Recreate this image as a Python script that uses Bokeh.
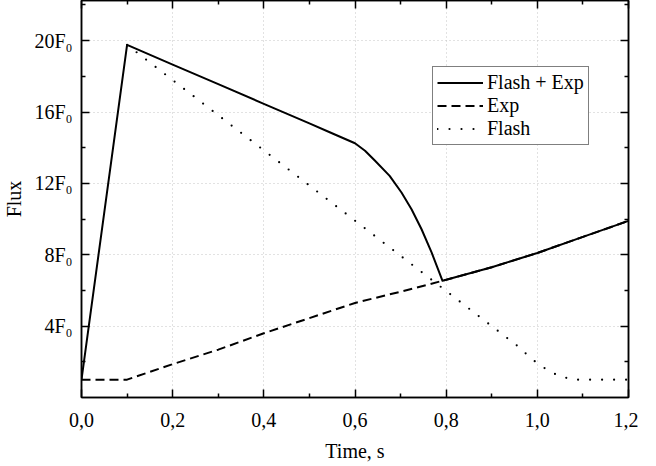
from bokeh.plotting import figure
from bokeh.models import (FixedTicker, LinearAxis, Legend, LegendItem, Range1d)
from bokeh.embed import file_html
from bokeh.resources import INLINE

# ---- data ----
t_sum = [0.0, 0.1, 0.2, 0.3, 0.4, 0.5, 0.547, 0.6, 0.622, 0.644, 0.676, 0.702,
         0.724, 0.746, 0.768, 0.792, 0.9, 1.0, 1.1, 1.2]
flux_sum = [1.0, 19.76, 18.66, 17.56, 16.46, 15.36, 14.84, 14.25, 13.83, 13.27,
            12.42, 11.49, 10.55, 9.43, 8.13, 6.54, 7.3, 8.1, 9.0, 9.9]

t_exp = [0.0, 0.1, 0.2, 0.3, 0.4, 0.5, 0.6, 0.7, 0.792, 0.9, 1.0, 1.1, 1.2]
flux_exp = [1.0, 1.0, 1.87, 2.68, 3.6, 4.45, 5.3, 5.93, 6.54, 7.3, 8.1, 9.0, 9.9]

t_flash = [0.1, 0.2, 0.3, 0.4, 0.5, 0.6, 0.7, 0.8, 0.9, 0.96, 0.986, 1.01,
           1.034, 1.058, 1.082, 1.2]
flux_flash = [19.76, 17.79, 15.82, 13.85, 11.88, 9.91, 7.94, 5.97, 4.0, 2.82,
              2.19, 1.74, 1.37, 1.13, 1.0, 1.0]

x_major = [0.0, 0.2, 0.4, 0.6, 0.8, 1.0, 1.2]
x_minor = [0.1, 0.3, 0.5, 0.7, 0.9, 1.1]
x_labels = ["0,0", "0,2", "0,4", "0,6", "0,8", "1,0", "1,2"]

y_major = [4, 8, 12, 16, 20]
y_minor = [2, 6, 10, 14, 18, 22]
y_labels = ["4F\u2080", "8F\u2080", "12F\u2080", "16F\u2080", "20F\u2080"]

legend_labels = ["Flash + Exp", "Exp", "Flash"]

FONT = "Liberation Serif"
FS = "20px"

p = figure(frame_width=547, frame_height=397,
           x_range=Range1d(0, 1.2), y_range=Range1d(0, 22.25),
           output_backend="svg", toolbar_location=None,
           min_border_left=73, min_border_right=10, min_border_top=0,
           min_border_bottom=10)
p.outline_line_color = "black"
p.outline_line_width = 1.5
p.background_fill_color = "white"
p.border_fill_color = "white"

xt = FixedTicker(ticks=x_major, minor_ticks=x_minor)
yt = FixedTicker(ticks=y_major, minor_ticks=y_minor)


def style_axis(ax, ticker):
    ax.ticker = ticker
    ax.axis_line_color = "black"
    ax.axis_line_width = 1.5
    ax.major_tick_in = 8
    ax.major_tick_out = 0
    ax.minor_tick_in = 4
    ax.minor_tick_out = 0
    ax.major_tick_line_width = 1.5
    ax.minor_tick_line_width = 1.5
    ax.major_tick_line_color = "black"
    ax.minor_tick_line_color = "black"
    ax.major_label_text_font = FONT
    ax.major_label_text_font_size = FS
    ax.major_label_text_color = "black"
    ax.axis_label_text_font = FONT
    ax.axis_label_text_font_size = FS
    ax.axis_label_text_font_style = "normal"
    ax.axis_label_text_color = "black"


xa = p.xaxis[0]
style_axis(xa, xt)
xa.major_label_overrides = {v: s for v, s in zip(x_major, x_labels)}
xa.axis_label = "Time, s"
xa.major_label_standoff = 15
xa.axis_label_standoff = 10

ya = p.yaxis[0]
style_axis(ya, yt)
ya.major_label_overrides = {v: s for v, s in zip(y_major, y_labels)}
ya.axis_label = "Flux"
ya.major_label_standoff = 9
ya.axis_label_standoff = 6

for loc, tk in (("above", xt), ("right", yt)):
    ax = LinearAxis()
    style_axis(ax, tk)
    ax.major_label_text_font_size = "0px"
    ax.major_label_standoff = 0
    ax.major_label_overrides = {}
    p.add_layout(ax, loc)

for g, tk in ((p.xgrid[0], xt), (p.ygrid[0], yt)):
    g.ticker = tk
    g.grid_line_color = "#c4c4c4"
    g.grid_line_dash = "1 3"
    g.grid_line_width = 1

r_sum = p.line(t_sum, flux_sum, line_color="black", line_width=2,
               line_join="round")
r_exp = p.line(t_exp, flux_exp, line_color="black", line_width=2,
               line_dash="9 5")
r_flash = p.line(t_flash, flux_flash, line_color="black", line_width=2.2,
                 line_dash="0 12", line_cap="round")

legend = Legend(items=[LegendItem(label=legend_labels[0], renderers=[r_sum]),
                       LegendItem(label=legend_labels[1], renderers=[r_exp]),
                       LegendItem(label=legend_labels[2], renderers=[r_flash])],
                location=(351, 252))
legend.label_text_font = FONT
legend.label_text_font_size = FS
legend.label_text_color = "black"
legend.border_line_color = "black"
legend.border_line_width = 1
legend.background_fill_alpha = 1
legend.padding = 4
legend.spacing = 0
legend.margin = 0
legend.glyph_width = 46
legend.glyph_height = 23
legend.label_height = 23
legend.label_standoff = 4
p.add_layout(legend, "center")

open("out.html", "w").write(file_html(p, INLINE))
